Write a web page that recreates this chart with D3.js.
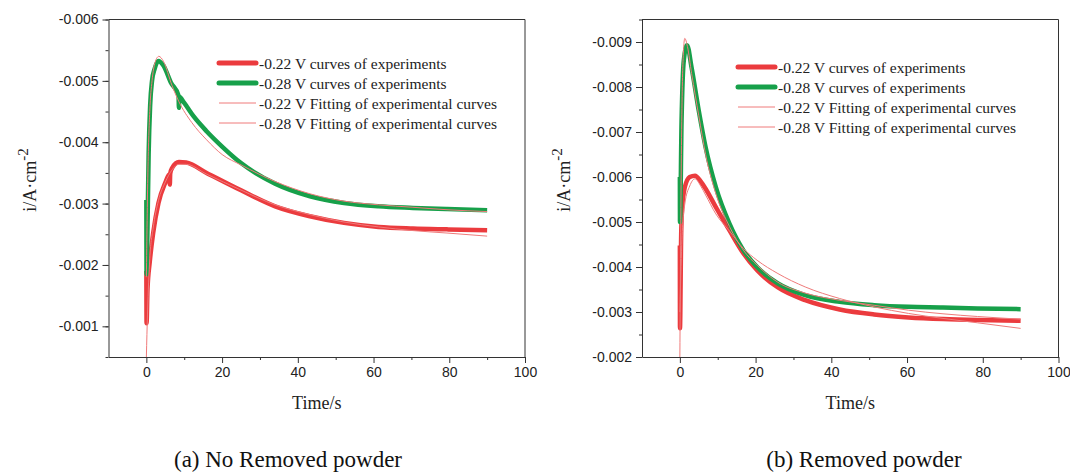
<!DOCTYPE html>
<html>
<head>
<meta charset="utf-8">
<script src="https://cdn.jsdelivr.net/npm/d3@7"></script>
<style>
  body { margin: 0; background: #fff; }
  svg { display: block; }
</style>
</head>
<body>
<div id="chart"></div>
<script>
// time (s), current density (A/cm2)
// (a) No Removed powder
const aExp022 = [[0,-0.0019],[0.05,-0.00105],[0.3,-0.0016],[0.9,-0.00205],[1.8,-0.00252],[3.2,-0.00301],[5,-0.00334],[6.1,-0.00348],[6.2,-0.00331],[6.3,-0.00349],[6.8,-0.00358],[8.6,-0.003678],[10.5,-0.00367],[15.9,-0.0035],[25,-0.003216],[34,-0.002956],[43.2,-0.002794],[52.2,-0.002686],[61.3,-0.00262],[70.4,-0.002594],[79.4,-0.00258],[90,-0.002566]];
const aExp028 = [[0,-0.00306],[0.05,-0.00185],[0.3,-0.0026],[0.6,-0.0038],[1.0,-0.0046],[1.5,-0.005],[2.2,-0.0052],[3.2,-0.005325],[4.5,-0.00525],[6.5,-0.00497],[8.5,-0.00476],[8.6,-0.00456],[8.7,-0.00474],[10,-0.00464],[12.5,-0.00442],[15.9,-0.00418],[20,-0.00393],[25,-0.00366],[34,-0.003325],[43.2,-0.00312],[52.2,-0.00301],[61.3,-0.002956],[70.4,-0.00293],[79.4,-0.00291],[90,-0.00289]];
const aFit022 = [[0,-0.0005],[0.3,-0.0012],[0.9,-0.0021],[1.8,-0.0026],[3.2,-0.00305],[5,-0.00335],[6.8,-0.00355],[8.6,-0.00364],[10.5,-0.00364],[15.9,-0.00348],[25,-0.00322],[34,-0.00298],[43.2,-0.00282],[52.2,-0.0027],[61.3,-0.00262],[70.4,-0.00256],[79.4,-0.00252],[90,-0.00247]];
const aFit028 = [[0,-0.0018],[0.4,-0.0035],[0.9,-0.0045],[1.5,-0.005],[2.3,-0.0053],[3.3,-0.0054],[4.5,-0.00532],[6.8,-0.00492],[8.6,-0.00466],[12,-0.00432],[15.9,-0.00404],[20,-0.0038],[25,-0.00363],[34,-0.00336],[43.2,-0.00316],[52.2,-0.00304],[61.3,-0.00298],[70.4,-0.00294],[79.4,-0.0029],[90,-0.00287]];

// (b) Removed powder
const bExp022 = [[0,-0.00448],[0.03,-0.00264],[0.35,-0.00474],[0.6,-0.0053],[1.3,-0.00577],[2.6,-0.006],[4,-0.00603],[5.5,-0.0059],[6.8,-0.00574],[9.5,-0.00533],[13.1,-0.004813],[16.8,-0.0043],[20.4,-0.003927],[25.9,-0.003545],[33.1,-0.003263],[42.2,-0.003057],[51.3,-0.002946],[60.4,-0.00288],[69.5,-0.002842],[78.6,-0.00282],[90,-0.002804]];
const bExp028 = [[0,-0.006],[0.03,-0.005],[0.45,-0.00725],[1.05,-0.0086],[1.9,-0.00893],[3.1,-0.00843],[5,-0.00747],[6.8,-0.00666],[9.5,-0.005773],[13.1,-0.004962],[16.8,-0.00437],[20.4,-0.004],[25.9,-0.003633],[33.1,-0.003374],[42.2,-0.003225],[51.3,-0.003152],[60.4,-0.003114],[69.5,-0.0031],[78.6,-0.003079],[90,-0.003063]];
const bFit022 = [[0,-0.003],[0.5,-0.0045],[1.3,-0.0054],[2.6,-0.0058],[4,-0.00596],[5.5,-0.0058],[6.8,-0.0056],[9.5,-0.00518],[13.1,-0.0048],[16.8,-0.00441],[20.4,-0.00415],[25.9,-0.003854],[33.1,-0.003557],[42.2,-0.0033],[51.3,-0.003114],[60.4,-0.002968],[69.5,-0.002857],[78.6,-0.00276],[90,-0.002636]];
const bFit028 = [[0,-0.002],[0.4,-0.0065],[0.8,-0.0085],[1.3,-0.00908],[2.0,-0.0089],[3.1,-0.0083],[5,-0.00736],[6.8,-0.0065],[9.5,-0.00563],[13.1,-0.0049],[16.8,-0.00437],[20.4,-0.00404],[25.9,-0.00366],[33.1,-0.00342],[42.2,-0.00326],[51.3,-0.00315],[60.4,-0.00304],[69.5,-0.00296],[78.6,-0.0029],[90,-0.00284]];

const xTicks = [0, 20, 40, 60, 80, 100];
const xMinor = [10, 30, 50, 70, 90];
const aYTicks = [-0.006, -0.005, -0.004, -0.003, -0.002, -0.001];
const bYTicks = [-0.009, -0.008, -0.007, -0.006, -0.005, -0.004, -0.003, -0.002];
const legendLabels = [
  "-0.22 V curves of experiments",
  "-0.28 V curves of experiments",
  "-0.22 V Fitting of experimental curves",
  "-0.28 V Fitting of experimental curves"
];
const captions = ["(a) No Removed powder", "(b) Removed powder"];

const RED = "#eb3b3e", GREEN = "#17a04a", FIT = "#ef7a7a";
const serif = "'Liberation Serif', 'Times New Roman', serif";
const sans = "'Liberation Sans', Arial, sans-serif";

const svg = d3.select("#chart").append("svg")
  .attr("width", 1070).attr("height", 473);

function panel(opts) {
  const x = d3.scaleLinear().domain([-10, 100]).range([opts.left, opts.left + 416.5]);
  const y = d3.scaleLinear().domain(opts.yDomain).range([357, 19.5]);
  const g = svg.append("g");

  // minor ticks
  const minorY = [];
  for (let v = opts.yDomain[0]; v >= opts.yDomain[1] - 1e-9; v -= 0.0005) minorY.push(+v.toFixed(4));

  g.append("g").attr("transform", `translate(0,357)`)
    .call(d3.axisBottom(x).tickValues(xMinor).tickSize(3).tickFormat(""))
    .call(a => a.select(".domain").remove());
  g.append("g").attr("transform", `translate(${x(-10)},0)`)
    .call(d3.axisLeft(y).tickValues(minorY).tickSize(3).tickFormat(""))
    .call(a => a.select(".domain").remove());

  const xa = g.append("g").attr("transform", `translate(0,357)`)
    .call(d3.axisBottom(x).tickValues(xTicks).tickSize(6).tickSizeOuter(0).tickPadding(4));
  const ya = g.append("g").attr("transform", `translate(${x(-10)},0)`)
    .call(d3.axisLeft(y).tickValues(opts.yTicks).tickSize(6).tickSizeOuter(0).tickPadding(4)
      .tickFormat(d => d.toFixed(3)));
  [xa, ya].forEach(a => {
    a.selectAll("text").attr("font-family", sans).attr("font-size", 14).attr("fill", "#222");
  });
  g.selectAll(".domain, .tick line").attr("stroke", "#333");

  // top and right frame
  g.append("path")
    .attr("d", `M${x(-10)},${y(opts.yDomain[1])}H${x(100)}V${y(opts.yDomain[0])}`)
    .attr("fill", "none").attr("stroke", "#333");

  const line = d3.line().x(d => x(d[0])).y(d => y(d[1])).curve(d3.curveMonotoneX);
  const clip = "clip" + opts.id;
  svg.append("clipPath").attr("id", clip).append("rect")
    .attr("x", x(-10)).attr("y", 19.5).attr("width", x(100) - x(-10)).attr("height", 337.5);

  const plot = g.append("g").attr("clip-path", `url(#${clip})`);
  plot.append("path").datum(opts.exp022).attr("d", line)
    .attr("fill", "none").attr("stroke", RED).attr("stroke-width", 4.5).attr("stroke-linejoin", "round");
  plot.append("path").datum(opts.exp028).attr("d", line)
    .attr("fill", "none").attr("stroke", GREEN).attr("stroke-width", 4.5).attr("stroke-linejoin", "round");
  plot.append("path").datum(opts.fit022).attr("d", line)
    .attr("fill", "none").attr("stroke", FIT).attr("stroke-width", 1);
  plot.append("path").datum(opts.fit028).attr("d", line)
    .attr("fill", "none").attr("stroke", FIT).attr("stroke-width", 1);

  // legend
  const lg = g.append("g").attr("transform", `translate(${opts.legX},${opts.legY})`);
  legendLabels.forEach((t, i) => {
    const row = lg.append("g").attr("transform", `translate(0,${i * 20})`);
    row.append("line").attr("x1", 0).attr("x2", 37).attr("y1", 0).attr("y2", 0)
      .attr("stroke", i === 0 ? RED : i === 1 ? GREEN : FIT)
      .attr("stroke-width", i < 2 ? 5 : 1).attr("stroke-linecap", i < 2 ? "round" : "butt");
    row.append("text").attr("x", 40).attr("y", 5.5)
      .attr("font-family", serif).attr("font-size", 15.5).attr("fill", "#222").text(t);
  });

  // axis titles
  g.append("text")
    .attr("x", (x(-10) + x(100)) / 2).attr("y", 409)
    .attr("text-anchor", "middle").attr("font-family", serif).attr("font-size", 18).attr("fill", "#222")
    .text("Time/s");
  const yt = g.append("text")
    .attr("transform", `translate(${opts.ytX},${180}) rotate(-90)`)
    .attr("text-anchor", "middle").attr("font-family", serif).attr("font-size", 18).attr("fill", "#222");
  yt.append("tspan").text("i/A·cm");
  yt.append("tspan").attr("dy", -8).attr("font-size", 15).text("-2");

  g.append("text")
    .attr("x", opts.capX).attr("y", 467)
    .attr("text-anchor", "middle").attr("font-family", serif).attr("font-size", 23).attr("fill", "#111")
    .text(opts.caption);
}

panel({
  id: "a", left: 108.5, yDomain: [-0.0005, -0.006], yTicks: aYTicks,
  exp022: aExp022, exp028: aExp028, fit022: aFit022, fit028: aFit028,
  legX: 219, legY: 63, ytX: 36, capX: 288, caption: captions[0]
});
panel({
  id: "b", left: 642, yDomain: [-0.002, -0.0095], yTicks: bYTicks,
  exp022: bExp022, exp028: bExp028, fit022: bFit022, fit028: bFit028,
  legX: 738, legY: 67, ytX: 570, capX: 864, caption: captions[1]
});
</script>
</body>
</html>
